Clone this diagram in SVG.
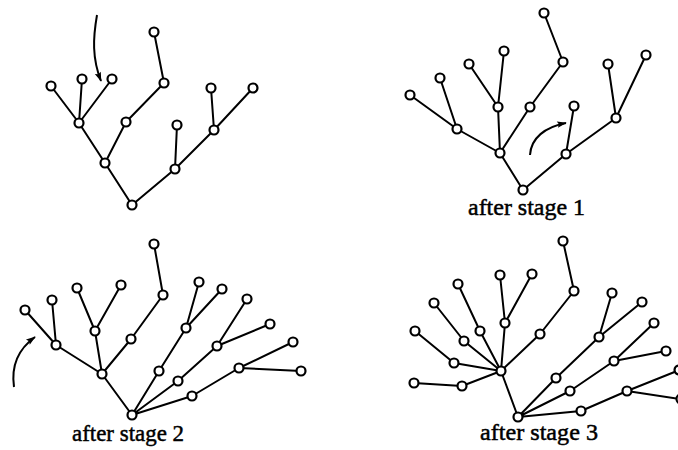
<svg xmlns="http://www.w3.org/2000/svg" width="678" height="450" viewBox="0 0 678 450">
<style>
.e{stroke:#000;stroke-width:2;fill:none;stroke-linecap:round}
.n circle{fill:#fff;stroke:#000;stroke-width:2.2}
.arr{stroke:#000;stroke-width:2;fill:none;marker-end:url(#ah)}
.t{font-family:"Liberation Serif","Times New Roman",serif;font-size:24px;fill:#000;stroke:#000;stroke-width:0.5}
</style>
<defs>
<marker id="ah" viewBox="0 0 12 10" refX="11" refY="5" markerWidth="6" markerHeight="4" orient="auto" markerUnits="strokeWidth">
<path d="M0,1 L12,5 L0,9 L2,5 Z" fill="#000"/>
</marker>
</defs>
<rect width="678" height="450" fill="#fff"/>
<g id="connectors">
<path class="e" d="M51,86 L79,123 M82,79 L79,123 M112,79 L79,123 M79,123 L105,163 M126,122 L105,163 M164,83 L126,122 M154,32 L164,83 M105,163 L132,205 M132,205 L175,169 M175,169 L177,125 M175,169 L214,130 M214,130 L211,88 M214,130 L253,88"/>
<path class="e" d="M410,95 L457,129 M440,78 L457,129 M457,129 L500,153 M469,64 L498,107 M504,51 L498,107 M498,107 L500,153 M500,153 L530,107 M530,107 L563,62 M563,62 L544,13 M500,153 L523,190 M523,190 L566,154 M566,154 L574,106 M566,154 L616,118 M616,118 L608,64 M616,118 L646,55"/>
<path class="e" d="M25,310 L56,345 M52,300 L56,345 M56,345 L102,374 M77,288 L95,331 M121,285 L95,331 M95,331 L102,374 M102,374 L131,339 M131,339 L163,295 M163,295 L154,244 M102,374 L132,415 M132,415 L159,371 M159,371 L186,328 M186,328 L199,282 M186,328 L222,289 M132,415 L178,381 M178,381 L217,346 M217,346 L247,299 M217,346 L270,324 M132,415 L192,396 M192,396 L239,368 M239,368 L293,342 M239,368 L301,371"/>
<path class="e" d="M414,383 L462,386 M462,386 L501,371 M415,331 L454,363 M454,363 L501,371 M434,303 L464,341 M464,341 L501,371 M458,284 L480,331 M480,331 L501,371 M500,275 L505,323 M532,274 L505,323 M505,323 L501,371 M501,371 L540,334 M540,334 L574,291 M574,291 L563,241 M501,371 L518,417 M518,417 L556,378 M556,378 L599,337 M599,337 L612,293 M599,337 L642,302 M518,417 L570,391 M570,391 L614,361 M614,361 L654,323 M614,361 L666,351 M518,417 L581,411 M581,411 L627,391 M627,391 L677,371 M627,391 L679,399"/>
<path class="arr" d="M97,15 C93,38 92,58 101,81"/>
<path class="arr" d="M530,155 C531,138 545,127 566,123"/>
<path class="arr" d="M14,387 C11,366 17,350 35,337"/>
</g>
<g id="tree1" class="n">
<circle cx="154" cy="32" r="4.5"/><circle cx="164" cy="83" r="4.5"/><circle cx="126" cy="122" r="4.5"/>
<circle cx="51" cy="86" r="4.5"/><circle cx="82" cy="79" r="4.5"/><circle cx="112" cy="79" r="4.5"/>
<circle cx="79" cy="123" r="4.5"/><circle cx="105" cy="163" r="4.5"/><circle cx="132" cy="205" r="4.5"/>
<circle cx="177" cy="125" r="4.5"/><circle cx="211" cy="88" r="4.5"/><circle cx="253" cy="88" r="4.5"/>
<circle cx="214" cy="130" r="4.5"/><circle cx="175" cy="169" r="4.5"/>
</g>
<g id="tree2" class="n">
<circle cx="544" cy="13" r="4.5"/><circle cx="563" cy="62" r="4.5"/><circle cx="530" cy="107" r="4.5"/>
<circle cx="504" cy="51" r="4.5"/><circle cx="469" cy="64" r="4.5"/><circle cx="498" cy="107" r="4.5"/>
<circle cx="440" cy="78" r="4.5"/><circle cx="410" cy="95" r="4.5"/><circle cx="457" cy="129" r="4.5"/>
<circle cx="500" cy="153" r="4.5"/><circle cx="523" cy="190" r="4.5"/><circle cx="574" cy="106" r="4.5"/>
<circle cx="566" cy="154" r="4.5"/><circle cx="608" cy="64" r="4.5"/><circle cx="646" cy="55" r="4.5"/>
<circle cx="616" cy="118" r="4.5"/>
</g>
<g id="tree3" class="n">
<circle cx="154" cy="244" r="4.5"/><circle cx="163" cy="295" r="4.5"/><circle cx="131" cy="339" r="4.5"/>
<circle cx="121" cy="285" r="4.5"/><circle cx="77" cy="288" r="4.5"/><circle cx="95" cy="331" r="4.5"/>
<circle cx="25" cy="310" r="4.5"/><circle cx="52" cy="300" r="4.5"/><circle cx="56" cy="345" r="4.5"/>
<circle cx="102" cy="374" r="4.5"/><circle cx="132" cy="415" r="4.5"/><circle cx="199" cy="282" r="4.5"/>
<circle cx="222" cy="289" r="4.5"/><circle cx="186" cy="328" r="4.5"/><circle cx="159" cy="371" r="4.5"/>
<circle cx="247" cy="299" r="4.5"/><circle cx="270" cy="324" r="4.5"/><circle cx="217" cy="346" r="4.5"/>
<circle cx="178" cy="381" r="4.5"/><circle cx="293" cy="342" r="4.5"/><circle cx="301" cy="371" r="4.5"/>
<circle cx="239" cy="368" r="4.5"/><circle cx="192" cy="396" r="4.5"/>
</g>
<g id="tree4" class="n">
<circle cx="563" cy="241" r="4.5"/><circle cx="574" cy="291" r="4.5"/><circle cx="540" cy="334" r="4.5"/>
<circle cx="532" cy="274" r="4.5"/><circle cx="500" cy="275" r="4.5"/><circle cx="505" cy="323" r="4.5"/>
<circle cx="458" cy="284" r="4.5"/><circle cx="480" cy="331" r="4.5"/><circle cx="434" cy="303" r="4.5"/>
<circle cx="464" cy="341" r="4.5"/><circle cx="415" cy="331" r="4.5"/><circle cx="454" cy="363" r="4.5"/>
<circle cx="414" cy="383" r="4.5"/><circle cx="462" cy="386" r="4.5"/><circle cx="501" cy="371" r="4.5"/>
<circle cx="518" cy="417" r="4.5"/><circle cx="612" cy="293" r="4.5"/><circle cx="642" cy="302" r="4.5"/>
<circle cx="599" cy="337" r="4.5"/><circle cx="556" cy="378" r="4.5"/><circle cx="654" cy="323" r="4.5"/>
<circle cx="666" cy="351" r="4.5"/><circle cx="614" cy="361" r="4.5"/><circle cx="570" cy="391" r="4.5"/>
<circle cx="679" cy="370" r="4.5"/><circle cx="681" cy="399" r="4.5"/><circle cx="627" cy="391" r="4.5"/>
<circle cx="581" cy="411" r="4.5"/>
</g>
<g id="labels">
<text class="t" x="468" y="215" textLength="117" lengthAdjust="spacingAndGlyphs">after stage 1</text>
<text class="t" x="72" y="441" textLength="112" lengthAdjust="spacingAndGlyphs">after stage 2</text>
<text class="t" x="480" y="440" textLength="118" lengthAdjust="spacingAndGlyphs">after stage 3</text>
</g>
</svg>
